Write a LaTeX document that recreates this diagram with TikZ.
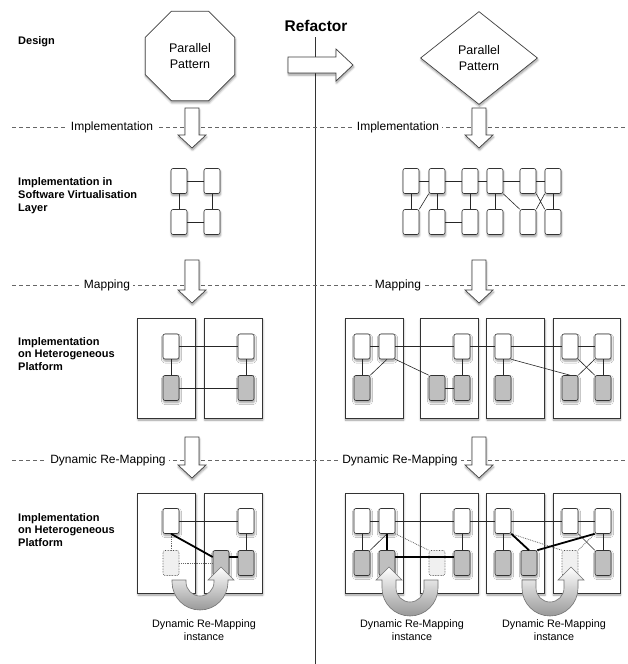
\documentclass[tikz,border=0pt]{standalone}
\usepackage{fontspec}
\setmainfont{Liberation Sans}
\usetikzlibrary{shapes.geometric,shadows.blur}

% block arrow pointing down: x, top, tip
\newcommand{\blockdown}[3]{%
  \draw[blockarr] (#1-7,#2) -- (#1+7,#2) -- (#1+7,#3-13) -- (#1+14,#3-13) -- (#1,#3)
     -- (#1-14,#3-13) -- (#1-7,#3-13) -- cycle;}

% u-turn arrow: centre x, centre y, side of the head (1 right, -1 left), straight part
\newcommand{\remaparrow}[4]{%
  \pgfmathsetmacro{\ux}{#1}\pgfmathsetmacro{\uy}{#2}%
  \pgfmathsetmacro{\ud}{#3}\pgfmathsetmacro{\ue}{#4}%
  \draw[remaparr] ({\ux-\ud*28},{\uy-\ue}) -- ({\ux-\ud*28},\uy)
     .. controls ({\ux-\ud*28},{\uy+15.4}) and ({\ux-\ud*15.4},{\uy+28}) .. (\ux,{\uy+28})
     .. controls ({\ux+\ud*15.4},{\uy+28}) and ({\ux+\ud*28},{\uy+15.4}) .. ({\ux+\ud*28},\uy)
     -- ({\ux+\ud*28},{\uy-\ue}) -- ({\ux+\ud*34},{\uy-\ue}) -- ({\ux+\ud*21},{\uy-\ue-13})
     -- ({\ux+\ud*8},{\uy-\ue}) -- ({\ux+\ud*14},{\uy-\ue}) -- ({\ux+\ud*14},\uy)
     .. controls ({\ux+\ud*14},{\uy+7.7}) and ({\ux+\ud*7.7},{\uy+14}) .. (\ux,{\uy+14})
     .. controls ({\ux-\ud*7.7},{\uy+14}) and ({\ux-\ud*14},{\uy+7.7}) .. ({\ux-\ud*14},\uy)
     -- ({\ux-\ud*14},{\uy-\ue}) -- cycle;}

\begin{document}
\begin{tikzpicture}[x=1pt,y=-1pt,
  soft/.style={blur shadow={shadow xshift=0.5pt,shadow yshift=-2pt,shadow blur steps=6,shadow opacity=40}},
  lbl/.style={anchor=west,align=left,inner sep=0pt,font=\fontsize{11}{12.9}\selectfont\bfseries},
  phase/.style={fill=white,inner sep=3pt,font=\fontsize{12}{14}\selectfont},
  phaseline/.style={black!60,dash pattern=on 4pt off 3pt,line width=0.6pt},
  pat/.style={draw=black!75,fill=white,line width=0.7pt,align=center,inner sep=0pt,font=\fontsize{12.5}{15.5}\selectfont,soft},
  pe/.style={draw=black!80,fill=white,rounded corners=2pt,minimum width=16pt,minimum height=25pt,inner sep=0pt,line width=0.6pt,soft},
  hw/.style={pe,fill=black!25},
  ghost/.style={draw=black!70,fill=black!6,densely dotted,rounded corners=2pt,minimum width=16pt,minimum height=25pt,inner sep=0pt,line width=0.6pt},
  chip/.style={draw=black!80,fill=white,line width=0.6pt,minimum height=100pt,minimum width=58pt,inner sep=0pt,soft},
  link/.style={black!85,line width=0.6pt},
  moved/.style={black,line width=1.8pt},
  old/.style={black!60,densely dotted,line width=0.8pt},
  blockarr/.style={draw=black!75,fill=white,line width=0.7pt,soft},
  remaparr/.style={draw=black!55,top color=white,bottom color=black!40,line width=0.6pt},
  note/.style={align=center,font=\fontsize{10.8}{12.5}\selectfont}]
\useasboundingbox (0,0) rectangle (627,664);

% refactor divide
\draw[black!80,line width=0.7pt] (315,37) -- (315,664);
\node[font=\fontsize{15.5}{18}\selectfont\bfseries] (refactor) at (316,26) {Refactor};

% phase separators
\draw[phaseline] (12,127) -- (627,127);
\draw[phaseline] (12,285) -- (627,285);
\draw[phaseline] (12,460) -- (627,460);
\node[phase] (impl1) at (112,127) {Implementation};
\node[phase] (impl2) at (398,127) {Implementation};
\node[phase] (map1) at (107,285) {Mapping};
\node[phase] (map2) at (398,285) {Mapping};
\node[phase] (dyn1) at (108,460) {Dynamic Re-Mapping};
\node[phase] (dyn2) at (400,460) {Dynamic Re-Mapping};

% row labels
\node[lbl] (design) at (18,42) {Design};
\node[lbl] (swlayer) at (18,196) {Implementation in\\Software Virtualisation\\Layer};
\node[lbl] (hetero1) at (18,354) {Implementation\\on Heterogeneous\\Platform};
\node[lbl] (hetero2) at (18,530) {Implementation\\on Heterogeneous\\Platform};

% design
\node[pat,regular polygon,regular polygon sides=8,minimum size=97pt] (octo) at (190,56) {Parallel\\Pattern};
\node[pat,diamond,minimum width=117pt,minimum height=93pt] (dia) at (479,58) {Parallel\\Pattern};
\draw[blockarr] (288,57) -- (336,57) -- (336,49) -- (353,65) -- (336,81) -- (336,73) -- (288,73) -- cycle;

% phase arrows
\blockdown{192}{108}{148}
\blockdown{479}{108}{148}
\blockdown{192}{260}{303}
\blockdown{479}{260}{303}
\blockdown{192}{437}{478}
\blockdown{479}{437}{478}

% software virtualisation layer
\node[pe] (sL1) at (179,181) {};
\node[pe] (sL2) at (212,181) {};
\node[pe] (sL3) at (179,222) {};
\node[pe] (sL4) at (212,222) {};
\foreach \n/\x in {1/411,2/437,3/470,4/495,5/528,6/553} {
  \node[pe] (sT\n) at (\x,181) {};
  \node[pe] (sB\n) at (\x,222) {};
}

% platform chips
\node[chip] (cL1) at (166.7,368) {};
\node[chip] (cL2) at (233.3,368) {};
\node[chip] (cR1) at (374.2,368) {};
\node[chip] (cR2) at (449.2,368) {};
\node[chip] (cR3) at (515.5,368) {};
\node[chip,minimum width=67pt] (cR4) at (586.4,368) {};
\node[chip] (dL1) at (166.7,543) {};
\node[chip] (dL2) at (233.3,543) {};
\node[chip] (dR1) at (374.2,543) {};
\node[chip] (dR2) at (449.2,543) {};
\node[chip] (dR3) at (515.5,543) {};
\node[chip,minimum width=67pt] (dR4) at (586.4,543) {};

% mapping
\node[pe] (mL1) at (171,346.5) {};
\node[pe] (mL2) at (246,346.5) {};
\node[hw] (mL3) at (171,388) {};
\node[hw] (mL4) at (246,388) {};
\foreach \n/\x in {1/362,2/387,3/462,4/503,5/570,6/603}
  \node[pe] (mT\n) at (\x,346.5) {};
\foreach \n/\x in {1/362,2/437,3/462,4/503,5/570,6/603}
  \node[hw] (mB\n) at (\x,388) {};

% dynamic re-mapping
\node[pe] (rL1) at (171,521) {};
\node[pe] (rL2) at (246,521) {};
\node[ghost] (rLg) at (171,563) {};
\node[hw] (rLm) at (221,563) {};
\node[hw] (rL4) at (246,563) {};
\foreach \n/\x in {1/362,2/387,3/462,4/503,5/570,6/603}
  \node[pe] (rT\n) at (\x,521) {};
\node[hw] (rB1) at (362,563) {};
\node[hw] (rM2) at (387,563) {};
\node[ghost] (rG2) at (437,563) {};
\node[hw] (rB3) at (462,563) {};
\node[hw] (rB4) at (503,563) {};
\node[hw] (rM5) at (529,563) {};
\node[ghost] (rG5) at (570,563) {};
\node[hw] (rB6) at (603,563) {};

% software links
\draw[link] (sL1) -- (sL2) (sL3) -- (sL4) (sL1) -- (sL3) (sL2) -- (sL4);
\draw[link] (sT1) -- (sT2) -- (sT3) -- (sT4) -- (sT5) -- (sT6);
\draw[link] (sT1) -- (sB1) (sT2) -- (sB2) (sT3) -- (sB3) (sT4) -- (sB4) (sT6) -- (sB6);
\draw[link] (sT2.south west) -- (sB1.north east);
\draw[link] (sB2) -- (sB3);
\draw[link] (sT4.south east) -- (sB5.north west);
\draw[link] (sT5.south east) -- (sB6.north west) (sT6.south west) -- (sB5.north east);

% mapped links
\draw[link] (mL1) -- (mL2) (mL3) -- (mL4) (mL1) -- (mL3) (mL2) -- (mL4);
\draw[link] (mT1) -- (mT2) -- (mT3) -- (mT4) -- (mT5) -- (mT6);
\draw[link] (mT1) -- (mB1) (mT3) -- (mB3) (mT4) -- (mB4) (mT6) -- (mB6);
\draw[link] (mT2.south) -- (mB1.north east);
\draw[link] (mT2.south east) -- (mB2.north west);
\draw[link] (mB2) -- (mB3);
\draw[link] (mT4.south east) -- (mB5.north);
\draw[link] (mT5.south east) -- (mB6.north west) (mT6.south west) -- (mB5.north east);

% re-mapped links
\draw[link] (rL1) -- (rL2) (rL2) -- (rL4);
\draw[old] (rL1.south) -- (rLg.north);
\draw[old] (rLg.east) -- (rLm.west);
\draw[moved] (rL1.south) -- ([yshift=6pt]rLm.west);
\draw[moved] ([yshift=6pt]rLm.east) -- ([yshift=6pt]rL4.west);

\draw[link] (rT1) -- (rT2) -- (rT3) -- (rT4) -- (rT5) -- (rT6);
\draw[link] (rT1) -- (rB1) (rT3) -- (rB3) (rT4) -- (rB4) (rT6) -- (rB6);
\draw[link] (rT2.south) -- (rB1.north east);
\draw[link] (rT5.south east) -- (rB6.north west);
\draw[old] (rT2.south east) -- (rG2.north west);
\draw[old] (rT4.south east) -- (rG5.north west);
\draw[old] (rG5.north east) -- (rT6.south west);
\draw[moved] (rT2) -- (rM2);
\draw[moved] ([yshift=6pt]rM2.east) -- ([yshift=6pt]rB3.west);
\draw[moved] (rT4.south east) -- (rM5.north);
\draw[moved] (rM5.north east) -- (rT6.south west);

% re-mapping instances
\remaparrow{200}{582}{1}{2}
\remaparrow{410}{588}{-1}{8}
\remaparrow{550}{588}{1}{8}
\node[note] (inst1) at (204,630) {Dynamic Re-Mapping\\instance};
\node[note] (inst2) at (412,630) {Dynamic Re-Mapping\\instance};
\node[note] (inst3) at (554,630) {Dynamic Re-Mapping\\instance};

\end{tikzpicture}
\end{document}
